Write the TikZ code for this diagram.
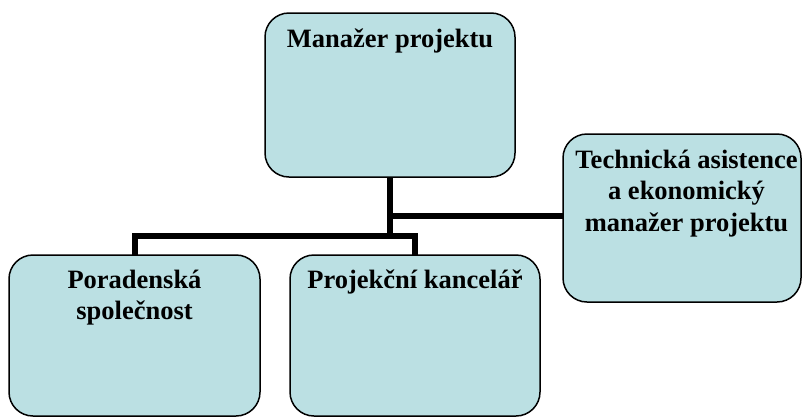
\documentclass[tikz,border=0pt]{standalone}
\usepackage{fontspec}
\setmainfont{Liberation Serif}[BoldFont={Liberation Serif Bold}]
\definecolor{boxfill}{RGB}{187,224,227}
\tikzset{
  orgbox/.style={draw=black, line width=1.5pt, fill=boxfill, rounded corners=24pt},
  lbl/.style={anchor=north, inner sep=0pt, align=center,
    font=\fontsize{26.5}{31.5}\selectfont\bfseries},
  conn/.style={draw=black, line width=6pt}
}
\newcommand{\lstrut}{\rule{0pt}{20pt}}
\begin{document}
\begin{tikzpicture}[x=1pt,y=-1pt]
  \clip (0,0) rectangle (802,418);
  \fill[white] (0,0) rectangle (802,418);
  \coordinate (hub) at (390,236);
  \coordinate (side) at (390,216);
  \coordinate (lft) at (135,236);
  \coordinate (rgt) at (415,236);
  % boxes
  \path[orgbox] (265,13) rectangle (515,177);
  \path[orgbox] (563,134) rectangle (801,302);
  \path[orgbox] (9,255) rectangle (260,416);
  \path[orgbox] (290,255) rectangle (540,416);
  \node[inner sep=0pt, minimum width=250pt, minimum height=164pt] (top) at (390,95) {};
  \node[inner sep=0pt, minimum width=238pt, minimum height=168pt] (tech) at (682,218) {};
  \node[inner sep=0pt, minimum width=251pt, minimum height=161pt] (por) at (134.5,335.5) {};
  \node[inner sep=0pt, minimum width=250pt, minimum height=161pt] (proj) at (415,335.5) {};
  % connectors
  \draw[conn] (top.south) -- (hub);
  \draw[conn] (side) -- (tech.west |- side);
  \draw[conn, line cap=rect] (lft) -- (rgt);
  \draw[conn] (lft) -- (lft |- por.north);
  \draw[conn] (rgt) -- (rgt |- proj.north);
  % labels
  \node[lbl] (ttop) at (390,27) {\lstrut Manažer projektu};
  \node[lbl] (ttech) at (686.5,148) {\lstrut Technická asistence\\a ekonomický\\manažer projektu};
  \node[lbl] (tpor) at (134.5,268) {\lstrut Poradenská\\společnost};
  \node[lbl] (tproj) at (415,268) {\lstrut Projekční kancelář};
\end{tikzpicture}
\end{document}
